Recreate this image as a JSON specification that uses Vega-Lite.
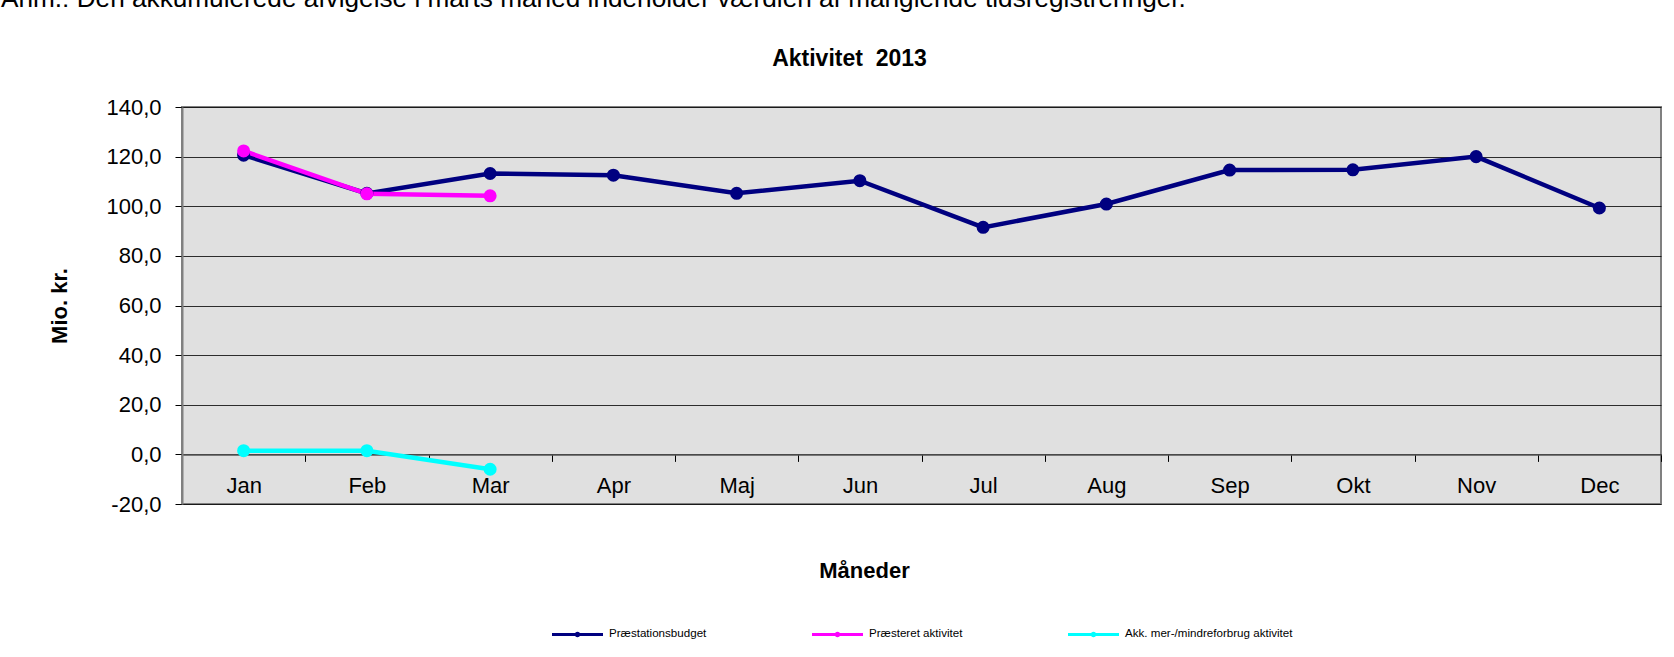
{
  "$schema": "https://vega.github.io/schema/vega-lite/v6.json",
  "autosize": {"type": "none"},
  "padding": {"left": 182, "top": 107, "right": 13, "bottom": 153},
  "width": 1479,
  "height": 397,
  "background": "white",
  "title": {
    "text": "Anm.: Den akkumulerede afvigelse i marts måned indeholder værdien af manglende tidsregistreringer.",
    "anchor": "start",
    "frame": "group",
    "dx": -181,
    "offset": 35,
    "fontSize": 26.2,
    "fontWeight": "normal",
    "font": "Liberation Sans",
    "color": "#000000"
  },
  "config": {
    "font": "Liberation Sans",
    "view": {"fill": "#E0E0E0", "stroke": "#808080", "strokeWidth": 2}
  },
  "data": {
    "values": [
      {"month": "Jan", "series": "Præstationsbudget", "value": 120.6},
      {"month": "Feb", "series": "Præstationsbudget", "value": 105.2},
      {"month": "Mar", "series": "Præstationsbudget", "value": 113.2},
      {"month": "Apr", "series": "Præstationsbudget", "value": 112.5},
      {"month": "Maj", "series": "Præstationsbudget", "value": 105.2},
      {"month": "Jun", "series": "Præstationsbudget", "value": 110.3},
      {"month": "Jul", "series": "Præstationsbudget", "value": 91.5},
      {"month": "Aug", "series": "Præstationsbudget", "value": 100.9},
      {"month": "Sep", "series": "Præstationsbudget", "value": 114.6},
      {"month": "Okt", "series": "Præstationsbudget", "value": 114.7},
      {"month": "Nov", "series": "Præstationsbudget", "value": 120.0},
      {"month": "Dec", "series": "Præstationsbudget", "value": 99.3},
      {"month": "Jan", "series": "Præsteret aktivitet", "value": 122.3},
      {"month": "Feb", "series": "Præsteret aktivitet", "value": 105.0},
      {"month": "Mar", "series": "Præsteret aktivitet", "value": 104.2},
      {"month": "Jan", "series": "Akk. mer-/mindreforbrug aktivitet", "value": 1.5},
      {"month": "Feb", "series": "Akk. mer-/mindreforbrug aktivitet", "value": 1.5},
      {"month": "Mar", "series": "Akk. mer-/mindreforbrug aktivitet", "value": -6.0}
    ]
  },
  "layer": [
    {
      "mark": {"type": "line", "strokeWidth": 4.5},
      "encoding": {
        "x": {
          "field": "month",
          "type": "ordinal",
          "sort": ["Jan", "Feb", "Mar", "Apr", "Maj", "Jun", "Jul", "Aug", "Sep", "Okt", "Nov", "Dec"],
          "scale": {"type": "band", "paddingInner": 0, "paddingOuter": 0},
          "axis": {
            "orient": "bottom",
            "offset": -49.625,
            "tickBand": "extent",
            "tickSize": 7,
            "tickColor": "#000000",
            "domainColor": "#555555",
            "domainWidth": 1.5,
            "labelFontSize": 22,
            "labelColor": "#000000",
            "labelPadding": 14,
            "labelAngle": 0,
            "grid": false,
            "title": "Måneder",
            "titleFontSize": 22,
            "titleFontWeight": "bold",
            "titleColor": "#000000",
            "titleX": 682,
            "titleY": 123,
            "titleAlign": "center",
            "titleBaseline": "alphabetic"
          }
        },
        "y": {
          "field": "value",
          "type": "quantitative",
          "scale": {"domain": [-20, 140], "nice": false, "zero": false},
          "axis": {
            "values": [-20, 0, 20, 40, 60, 80, 100, 120, 140],
            "labelExpr": "(datum.value < 0 ? '-' : '') + replace(format(abs(datum.value), '.1f'), '.', ',')",
            "labelFontSize": 22,
            "labelColor": "#000000",
            "labelPadding": 14,
            "tickSize": 7,
            "tickColor": "#000000",
            "domainColor": "#808080",
            "domainWidth": 2,
            "grid": true,
            "gridColor": "#000000",
            "gridOpacity": 0.8,
            "gridWidth": 1,
            "title": "Mio. kr.",
            "titleFontSize": 22,
            "titleFontWeight": "bold",
            "titleColor": "#000000",
            "titleAngle": -90,
            "titleX": -123,
            "titleY": 198.5,
            "titleAlign": "center",
            "titleBaseline": "middle"
          }
        },
        "color": {
          "field": "series",
          "type": "nominal",
          "scale": {
            "domain": ["Præstationsbudget", "Præsteret aktivitet", "Akk. mer-/mindreforbrug aktivitet"],
            "range": ["#000080", "#FF00FF", "#00FFFF"]
          },
          "legend": {
            "title": null,
            "orient": "none",
            "legendX": 370,
            "legendY": 501.5,
            "direction": "horizontal",
            "padding": 0,
            "symbolType": "M-1,-0.06L1,-0.06L1,0.06L-1,0.06Z M0.11,0A0.11,0.11 0 1,1 -0.11,0A0.11,0.11 0 1,1 0.11,0Z",
            "symbolSize": 2601,
            "symbolStrokeWidth": 0,
            "symbolOpacity": 1,
            "labelFontSize": 11.6,
            "labelFont": "Liberation Sans",
            "labelColor": "#000000",
            "labelOffset": 6,
            "labelLimit": 400,
            "columnPadding": 105,
            "encode": {
              "symbols": {
                "update": {
                  "fill": {"scale": "color", "field": "value"},
                  "stroke": {"value": "transparent"}
                }
              }
            }
          }
        }
      }
    },
    {
      "mark": {"type": "point", "filled": true, "size": 170, "opacity": 1},
      "encoding": {
        "x": {
          "field": "month",
          "type": "ordinal",
          "sort": ["Jan", "Feb", "Mar", "Apr", "Maj", "Jun", "Jul", "Aug", "Sep", "Okt", "Nov", "Dec"],
          "scale": {"type": "band", "paddingInner": 0, "paddingOuter": 0},
          "axis": {
            "orient": "top",
            "labels": false,
            "ticks": false,
            "domain": false,
            "grid": false,
            "title": "Aktivitet\u00a0 2013",
            "titleFontSize": 23,
            "titleFontWeight": "bold",
            "titleColor": "#000000",
            "titleX": 667,
            "titleY": -42,
            "titleAlign": "center",
            "titleBaseline": "alphabetic"
          }
        },
        "y": {"field": "value", "type": "quantitative"},
        "color": {"field": "series", "type": "nominal"}
      }
    }
  ],
  "resolve": {"axis": {"x": "independent"}}
}
